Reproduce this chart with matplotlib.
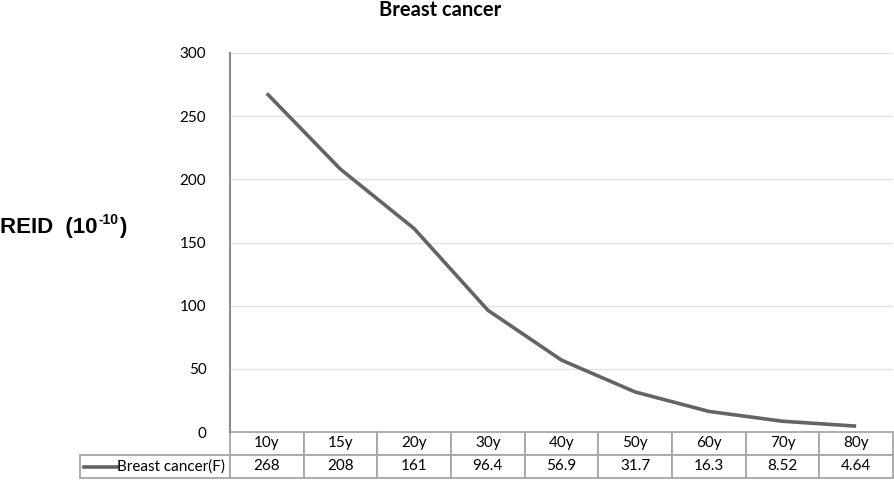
import matplotlib
matplotlib.use('Agg')
import matplotlib.pyplot as plt
from matplotlib.lines import Line2D

# data
AGES = ["10y", "15y", "20y", "30y", "40y", "50y", "60y", "70y", "80y"]
REID = [268, 208, 161, 96.4, 56.9, 31.7, 16.3, 8.52, 4.64]
REID_LABELS = ["268", "208", "161", "96.4", "56.9", "31.7", "16.3", "8.52", "4.64"]
SERIES = "Breast cancer(F)"
Y_TICKS = [0, 50, 100, 150, 200, 250, 300]

LINE_C = "#646464"
GRID_C = "#e3e3e3"
AXIS_C = "#8c8c8c"
TBL_C = "#a6a6a6"
FONT = ["Lato", "DejaVu Sans"]
ARIAL = ["Liberation Sans", "DejaVu Sans"]

W, H = 895, 484
fig = plt.figure(figsize=(W / 100, H / 100), dpi=100)
fig.patch.set_facecolor("white")

# plot area in pixels
L, R, T, B = 230, 893, 53, 432
ax = fig.add_axes([L / W, 1 - B / H, (R - L) / W, (B - T) / H])

x = list(range(len(AGES)))
ax.plot(x, REID, color=LINE_C, linewidth=2.6, solid_capstyle='butt', zorder=3)
ax.set_xlim(-0.5, len(AGES) - 0.5)
ax.set_ylim(0, 300)
ax.set_yticks(Y_TICKS)
ax.set_yticklabels([str(v) for v in Y_TICKS], fontsize=11, family=FONT)
ax.set_xticks([])
ax.tick_params(axis='y', length=0, pad=17)
for v in Y_TICKS[1:]:
    ax.axhline(v, color=GRID_C, linewidth=1.0, zorder=0)
for s in ("top", "right", "bottom"):
    ax.spines[s].set_visible(False)
ax.spines["left"].set_color(AXIS_C)
ax.spines["left"].set_linewidth(1.5)

# data table underneath
row_h = 23
tbl_left = 80
lab_w = L - tbl_left
cat_w = (R - L) / len(AGES)
tot_w = R - tbl_left
col_widths = [lab_w / tot_w] + [cat_w / tot_w] * len(AGES)
bbox = [(tbl_left - L) / (R - L), -2 * row_h / (B - T), tot_w / (R - L), 2 * row_h / (B - T)]
cells = [[""] + AGES, [""] + REID_LABELS]
tbl = ax.table(cellText=cells, colWidths=col_widths, bbox=bbox, cellLoc='center')
tbl.auto_set_font_size(False)
for (r, c), cell in tbl.get_celld().items():
    cell.set_edgecolor(TBL_C)
    cell.set_linewidth(1.3)
    cell.get_text().set_fontsize(11)
    cell.get_text().set_family(FONT)
    if r == 0 and c == 0:
        cell.visible_edges = ""

# series label and legend key in the table's first cell
y_key = 1 - (B + 1.5 * row_h) / H
fig.add_artist(Line2D([84 / W, 117 / W], [y_key, y_key], color=LINE_C, linewidth=2.6))
fig.text(225 / W, y_key, SERIES, ha='right', va='center', fontsize=11, family=FONT)

fig.text(440 / W, 1 - 10 / H, "Breast cancer", ha='center', va='center',
         fontsize=14.5, fontweight='bold', family=FONT)

# y-axis label with a plain-hyphen superscript, pieces placed one after another
rend = fig.canvas.get_renderer()
ylab_y = 1 - 227 / H
t1 = fig.text(0, ylab_y, "REID  (10", ha='left', va='center',
              fontsize=16, fontweight='bold', family=ARIAL)
x1 = t1.get_window_extent(rend).x1 / W
t2 = fig.text(x1 + 1 / W, ylab_y + 7 / H, "-10", ha='left', va='center',
              fontsize=10, fontweight='bold', family=ARIAL)
x2 = t2.get_window_extent(rend).x1 / W
fig.text(x2 + 1 / W, ylab_y, ")", ha='left', va='center',
         fontsize=16, fontweight='bold', family=ARIAL)

fig.savefig("out.png", dpi=100, facecolor="white")
